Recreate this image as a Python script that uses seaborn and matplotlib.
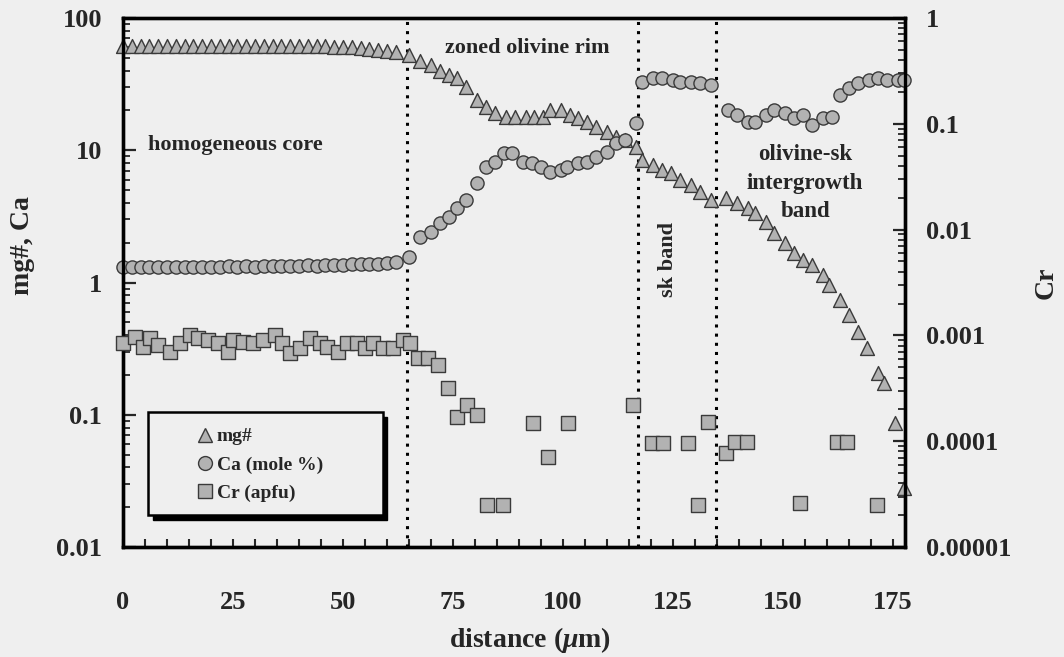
import matplotlib
matplotlib.use("Agg")
import matplotlib.pyplot as plt
import seaborn as sns
from matplotlib.lines import Line2D
from matplotlib.patches import Rectangle
from matplotlib.ticker import NullFormatter, MultipleLocator, LogLocator

# ---------------- data ----------------
mg_x = [0, 2, 4, 6, 8, 10, 12, 14, 16, 18, 20, 22, 24, 26, 28, 30, 32, 34, 36, 38, 40, 42, 44, 46,
        48, 50, 52, 54, 56, 58, 60, 62,
        65, 67.5, 70, 72, 74, 76, 78, 80.5, 82.5, 84.5, 87, 89, 91.5, 93.5, 95.5, 97, 99.5, 101.5,
        103.5, 105.5, 107.5, 110, 112, 114, 116.5, 118, 120.5, 122.5, 124.5, 126.5, 129, 131, 133.5,
        137, 139.5, 142, 143.5, 146, 148, 150.5, 152.5, 154.5, 156.5, 159, 160.5, 163, 165, 167, 169,
        171.5, 173, 175.5, 177.5]
mg_y = [61, 61, 61, 61, 61, 61, 61, 61, 61, 61, 61, 61, 61, 61, 61, 61, 61, 61, 61, 61, 61, 61, 61, 61,
        60, 60, 60, 59, 58, 57, 56, 55,
        52.5, 47.3, 44.2, 39.8, 37.1, 35.2, 30.1, 24.0, 21.2, 19.1, 17.9, 17.9, 17.9, 17.9, 17.9, 20.2,
        20.2, 18.5, 17.5, 16.4, 15.0, 13.7, 12.6, 12.0, 10.6, 8.4, 7.7, 7.1, 6.7, 6.0, 5.5, 4.8, 4.2,
        4.35, 4.0, 3.66, 3.35, 2.87, 2.37, 1.99, 1.67, 1.48, 1.36, 1.14, 0.96, 0.74, 0.57, 0.42, 0.32,
        0.207, 0.174, 0.087, 0.028]

ca_x = [0, 2, 4, 6, 8, 10, 12, 14, 16, 18, 20, 22, 24, 26, 28, 30, 32, 34, 36, 38, 40, 42, 44, 46,
        48, 50, 52, 54, 56, 58, 60, 62,
        65, 67.5, 70, 72, 74, 76, 78, 80.5, 82.5, 84.5, 86.5, 88.5, 91, 93, 95, 97, 99.5, 101, 103.5,
        105.5, 107.5, 110, 112, 114, 116.5, 118, 120.5, 122.5, 125, 126.5, 129, 131, 133.5, 137.5,
        139.5, 142, 143.5, 146, 148, 150.5, 152.5, 154.5, 156.5, 159, 161, 163, 165, 167, 169.5,
        171.5, 173.5, 176, 177.5]
ca_y = [1.31, 1.30, 1.31, 1.30, 1.30, 1.31, 1.30, 1.31, 1.31, 1.32, 1.31, 1.32, 1.33, 1.32, 1.33, 1.32,
        1.33, 1.33, 1.34, 1.33, 1.34, 1.35, 1.34, 1.35, 1.36, 1.36, 1.37, 1.38, 1.38, 1.39, 1.40, 1.42,
        1.56, 2.2, 2.41, 2.82, 3.13, 3.66, 4.2, 5.65, 7.5, 8.1, 9.5, 9.5, 8.1, 8.0, 7.5, 6.85, 7.1, 7.5,
        8.0, 8.1, 8.9, 9.7, 11.3, 12.0, 16.1, 32.8, 35.2, 35.2, 34, 32.8, 32.8, 32.2, 31.1, 20.2, 18.5,
        16.4, 16.4, 18.5, 20.2, 19.1, 17.5, 18.5, 15.5, 17.5, 17.9, 26.2, 29.6, 32.2, 33.9, 35.2, 33.9,
        33.9, 33.9]

cr_x = [0, 2.7, 4.5, 6.1, 8.0, 10.7, 13.0, 15.2, 17.0, 19.3, 21.6, 23.9, 25.0, 27.3, 29.5, 31.8, 34.5,
        36.1, 38.0, 40.2, 42.5, 44.8, 46.4, 48.9, 50.9, 53.2, 55.0, 56.8, 59.1, 61.4, 63.6, 65.2, 67.0,
        69.3, 71.6, 73.9, 75.9, 78.2, 80.5, 82.7, 86.4, 93.2, 96.6, 101.1, 115.9, 120.2, 122.7, 128.4,
        130.7, 133.0, 137.0, 139.1, 141.8, 153.9, 162.3, 164.5, 171.4]
cr_y = [8.5e-4, 9.7e-4, 7.8e-4, 9.4e-4, 8.1e-4, 7.0e-4, 8.5e-4, 1.0e-3, 9.4e-4, 9.05e-4, 8.5e-4, 7.0e-4,
        9.05e-4, 8.7e-4, 8.5e-4, 9.05e-4, 1.0e-3, 8.5e-4, 6.8e-4, 7.6e-4, 9.4e-4, 8.5e-4, 7.8e-4, 7.0e-4,
        8.5e-4, 8.5e-4, 7.6e-4, 8.5e-4, 7.6e-4, 7.6e-4, 9.05e-4, 8.5e-4, 6.1e-4, 6.1e-4, 5.25e-4, 3.2e-4,
        1.7e-4, 2.2e-4, 1.77e-4, 2.5e-5, 2.5e-5, 1.5e-4, 7.1e-5, 1.5e-4, 2.2e-4, 9.6e-5, 9.6e-5, 9.6e-5,
        2.5e-5, 1.52e-4, 7.7e-5, 9.8e-5, 9.8e-5, 2.6e-5, 9.8e-5, 9.8e-5, 2.5e-5]

boundaries = [64.5, 117, 134.8]
left_ticks = [0.01, 0.1, 1, 10, 100]
left_labels = ["0.01", "0.1", "1", "10", "100"]
right_ticks = [1e-5, 1e-4, 1e-3, 1e-2, 1e-1, 1]
right_labels = ["0.00001", "0.0001", "0.001", "0.01", "0.1", "1"]
x_ticks = [0, 25, 50, 75, 100, 125, 150, 175]
series_labels = ["mg#", "Ca (mole %)", "Cr (apfu)"]

# ---------------- style ----------------
sns.set_style("ticks")
plt.rcParams['font.family'] = ['Liberation Serif', 'DejaVu Serif']
plt.rcParams['font.weight'] = 'bold'
plt.rcParams['axes.labelweight'] = 'bold'
plt.rcParams['mathtext.fontset'] = 'custom'
plt.rcParams['mathtext.rm'] = 'Liberation Serif:bold'
plt.rcParams['mathtext.it'] = 'Liberation Serif:italic:bold'
plt.rcParams['mathtext.bf'] = 'Liberation Serif:bold'

BG = '#efefef'
FILL = '#b2b2b2'
EDGE = '#3a3a3a'

fig = plt.figure(figsize=(10.64, 6.57), dpi=100)
fig.patch.set_facecolor(BG)
ax = fig.add_axes([0.1156, 0.1674, 0.735, 0.8052])
ax.set_facecolor(BG)
ax2 = ax.twinx()
ax2.set_facecolor('none')

for xv in boundaries:
    ax.axvline(xv, color='black', lw=2.2, ls=(0, (1, 2)), zorder=1)

sns.scatterplot(x=mg_x, y=mg_y, marker='^', s=100, color=FILL, edgecolor=EDGE, linewidth=1,
                ax=ax, zorder=3, clip_on=False)
sns.scatterplot(x=ca_x, y=ca_y, marker='o', s=90, color=FILL, edgecolor=EDGE, linewidth=1,
                ax=ax, zorder=3, clip_on=False)
sns.scatterplot(x=cr_x, y=cr_y, marker='s', s=95, color=FILL, edgecolor=EDGE, linewidth=1,
                ax=ax2, zorder=3, clip_on=False)

ax.set_yscale('log')
ax2.set_yscale('log')
ax.set_ylim(0.01, 100)
ax2.set_ylim(1e-5, 1)
ax.set_xlim(0, 177.7)

ax.set_yticks(left_ticks)
ax.set_yticklabels(left_labels)
ax2.set_yticks(right_ticks)
ax2.set_yticklabels(right_labels)
ax.yaxis.set_minor_locator(LogLocator(base=10, subs=range(2, 10), numticks=20))
ax.yaxis.set_minor_formatter(NullFormatter())
ax2.yaxis.set_minor_locator(LogLocator(base=10, subs=range(2, 10), numticks=20))
ax2.yaxis.set_minor_formatter(NullFormatter())

ax.set_xticks(x_ticks)
ax.set_xticklabels([str(t) for t in x_ticks])
ax.xaxis.set_minor_locator(MultipleLocator(5))

ax.tick_params(axis='y', which='major', direction='in', length=9, width=1.6, left=True, right=False,
               labelsize=19, pad=15)
ax.tick_params(axis='y', which='minor', direction='in', length=5, width=1.3, left=True, right=False)
ax2.tick_params(axis='y', which='major', direction='in', length=9, width=1.6, right=True, left=False,
                labelsize=19, pad=15)
ax2.tick_params(axis='y', which='minor', direction='in', length=5, width=1.3, right=True, left=False)
ax.tick_params(axis='x', which='both', direction='in', length=6, width=1.5, top=False, bottom=True,
               labelsize=19, pad=32)

for a in (ax, ax2):
    for sp in a.spines.values():
        sp.set_linewidth(2.4)
        sp.set_color('black')
        sp.set_visible(True)

ax.set_xlabel(r"distance ($\mu$m)", fontsize=20, fontweight='bold')
ax.xaxis.set_label_coords(0.52, -0.148)
ax.set_ylabel("mg#, Ca", fontsize=20, fontweight='bold')
ax.yaxis.set_label_coords(-0.113, 0.57)
ax2.set_ylabel("Cr", fontsize=20, fontweight='bold', rotation=90)
ax2.yaxis.set_label_coords(1.165, 0.5)

# annotations
ax.text(5.7, 11, "homogeneous core", fontsize=16, fontweight='bold', ha='left', va='center')
ax.text(91.8, 59, "zoned olivine rim", fontsize=16, fontweight='bold', ha='center', va='center')
ax.text(123.9, 1.48, "sk band", fontsize=16, fontweight='bold', ha='center', va='center', rotation=90)
ax.text(155, 5.65, "olivine-sk\nintergrowth\nband", fontsize=16.5, fontweight='bold', ha='center',
        va='center', linespacing=1.45, multialignment='center')

# legend box with shadow
shadow = Rectangle((0.032 + 0.006, 0.06 - 0.009), 0.30, 0.195, transform=ax2.transAxes,
                   facecolor='black', edgecolor='black', zorder=5, clip_on=False)
box = Rectangle((0.032, 0.06), 0.30, 0.195, transform=ax2.transAxes, facecolor=BG,
                edgecolor='black', linewidth=1.8, zorder=6, clip_on=False)
ax2.add_patch(shadow)
ax2.add_patch(box)
handles = [Line2D([], [], ls='none', marker=m, markersize=10, markerfacecolor=FILL,
                  markeredgecolor=EDGE, markeredgewidth=1) for m in ['^', 'o', 's']]
leg = ax2.legend(handles, series_labels, loc='center left', bbox_to_anchor=(0.0875, 0.155),
                 borderaxespad=0, frameon=False, fontsize=14, handletextpad=0.1,
                 labelspacing=0.55, handlelength=1.0, borderpad=0.2)
leg.set_zorder(7)
for t in leg.get_texts():
    t.set_fontweight('bold')

fig.savefig("out.png", dpi=100, facecolor=BG)
